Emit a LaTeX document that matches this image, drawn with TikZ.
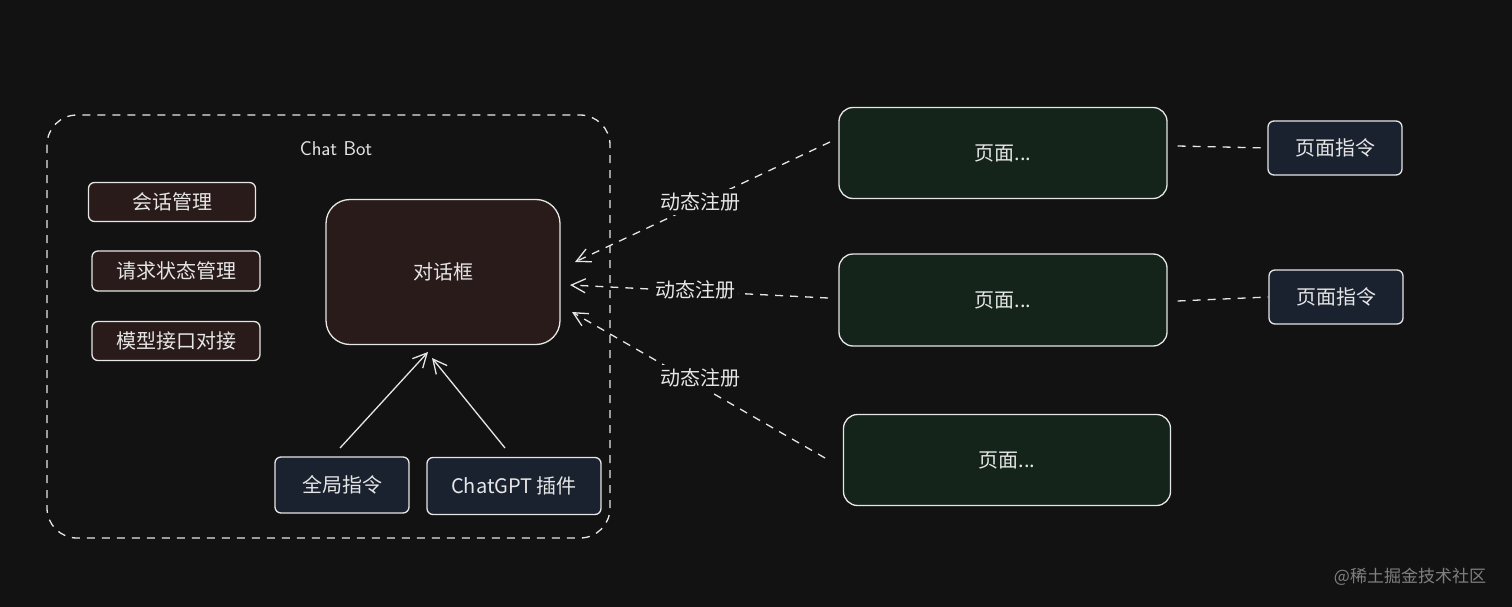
\documentclass[tikz,border=0pt]{standalone}
\usepackage{fontspec}
\setmainfont{Noto Sans CJK SC}
\usetikzlibrary{arrows.meta}
\definecolor{bg}{HTML}{121212}
\definecolor{redf}{HTML}{2A1B1B}
\definecolor{bluef}{HTML}{1A2230}
\definecolor{greenf}{HTML}{15241A}
\definecolor{edge}{HTML}{E6E6E6}
\tikzset{
 box/.style={draw=edge,line width=1.3pt,rounded corners=6pt,text=edge,font=\fontsize{20}{24}\selectfont},
 redbox/.style={box,fill=redf},
 bluebox/.style={box,fill=bluef},
 greenbox/.style={box,fill=greenf,rounded corners=14pt},
 dline/.style={draw=edge,line width=1.3pt,dash pattern=on 8pt off 7pt},
 lbl/.style={text=edge,font=\fontsize{20}{24}\selectfont},
 arr/.style={-{Straight Barb[length=14pt,width=14pt]}}
}
\begin{document}
\begin{tikzpicture}[x=1pt,y=-1pt]
\fill[bg] (0,0) rectangle (1512,607);
\useasboundingbox (0,0) rectangle (1512,607);
\draw[dline,rounded corners=30pt] (47,115) rectangle (610,538);
\node[lbl,font=\sffamily\fontsize{20}{24}\selectfont] (title) at (336,149) {Chat Bot};
\node[redbox,minimum width=167pt,minimum height=39pt] (a) at (172,202) {会话管理};
\node[redbox,minimum width=168pt,minimum height=40pt] (b) at (176,271) {请求状态管理};
\node[redbox,minimum width=168pt,minimum height=39pt] (c) at (176,341) {模型接口对接};
\node[redbox,rounded corners=24pt,minimum width=234pt,minimum height=145pt] (dlg) at (443,272) {对话框};
\node[bluebox,minimum width=134pt,minimum height=56pt] (g) at (342,485) {全局指令};
\node[bluebox,minimum width=174pt,minimum height=57pt] (p) at (514,486) {ChatGPT 插件};
\coordinate (g1) at (340,448); \coordinate (g2) at (428,352);
\coordinate (p1) at (505,448); \coordinate (p2) at (432,358);
\draw[edge,line width=1.3pt,arr] (g1) -- (g2);
\draw[edge,line width=1.3pt,arr] (p1) -- (p2);
\node[greenbox,minimum width=328pt,minimum height=91pt] (pg1) at (1003,153) {页面...};
\node[greenbox,minimum width=328pt,minimum height=92pt] (pg2) at (1003,300) {页面...};
\node[greenbox,minimum width=327pt,minimum height=91pt] (pg3) at (1007,460) {页面...};
\node[bluebox,minimum width=134pt,minimum height=54pt] (c1) at (1335,148) {页面指令};
\node[bluebox,minimum width=134pt,minimum height=54pt] (c2) at (1336,297) {页面指令};
\coordinate (e1) at (830,142); \coordinate (t1) at (575,262);
\coordinate (e2) at (828,298); \coordinate (t2) at (570,285);
\coordinate (e3) at (825,458); \coordinate (t3) at (572,312);
\draw[dline,arr] (e1) -- (t1);
\draw[dline,arr] (e2) -- (t2);
\draw[dline,arr] (e3) -- (t3);
\node[lbl,fill=bg] (l1) at (700,202) {动态注册};
\node[lbl,fill=bg] (l2) at (695,290) {动态注册};
\node[lbl,fill=bg] (l3) at (700,378) {动态注册};
\draw[dline] (pg1.east) ++(10,-7) -- (c1.west);
\draw[dline] (pg2.east) ++(10,1) -- (c2.west);
\node[text=gray,font=\fontsize{17}{20}\selectfont] (wm) at (1410,577) {@稀土掘金技术社区};
\end{tikzpicture}
\end{document}
